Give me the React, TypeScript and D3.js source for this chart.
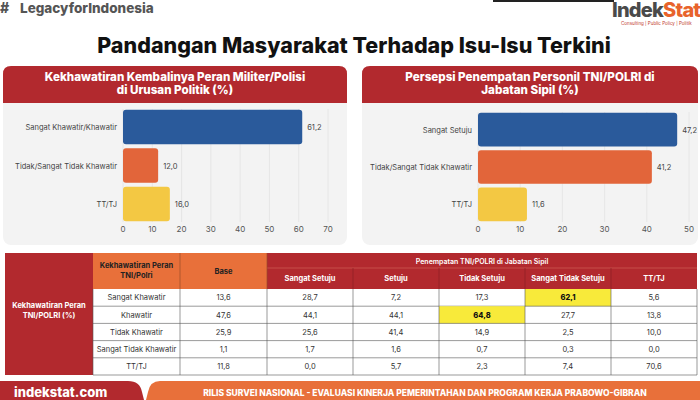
import * as d3 from "d3";

const W = 700;
const H = 400;
const FONT = "Inter, 'Open Sans', sans-serif";

// left chart
const leftCats = ["Sangat Khawatir/Khawatir", "Tidak/Sangat Tidak Khawatir", "TT/TJ"];
const leftVals = [61.2, 12.0, 16.0];
const leftTicks = [0, 10, 20, 30, 40, 50, 60, 70];

// right chart
const rightCats = ["Sangat Setuju", "Tidak/Sangat Tidak Khawatir", "TT/TJ"];
const rightVals = [47.2, 41.2, 11.6];
const rightTicks = [0, 10, 20, 30, 40, 50];

const barColors = ["#2a5a9b", "#e2653a", "#f3c843"];

// table
const rowLabels = ["Sangat Khawatir", "Khawatir", "Tidak Khawatir", "Sangat Tidak Khawatir", "TT/TJ"];
const baseVals = [13.6, 47.6, 25.9, 1.1, 11.8];
const colLabels = ["Sangat Setuju", "Setuju", "Tidak Setuju", "Sangat Tidak Setuju", "TT/TJ"];
const cellVals = [
  [28.7, 7.2, 17.3, 62.1, 5.6],
  [44.1, 44.1, 64.8, 27.7, 13.8],
  [25.6, 41.4, 14.9, 2.5, 10.0],
  [1.7, 1.6, 0.7, 0.3, 0.0],
  [0.0, 5.7, 2.3, 7.4, 70.6],
];
const highlights = [
  [0, 3],
  [1, 2],
];

const RED = "#b2292e";
const ORANGE = "#e8703a";

const fmt = (v: number) => v.toFixed(1).replace(".", ",");

type BarProps = {
  cats: string[];
  vals: number[];
  ticks: number[];
  x0: number;
  x1: number;
  y0: number;
  y1: number;
  labelX: number;
};

const BarChart = ({ cats, vals, ticks, x0, x1, y0, y1, labelX }: BarProps) => {
  const xScale = d3
    .scaleLinear()
    .domain([0, ticks[ticks.length - 1]])
    .range([x0, x1]);
  const yScale = d3
    .scaleBand<string>()
    .domain(cats.map((c, i) => c + i))
    .range([y0, y1])
    .paddingInner(0.1)
    .paddingOuter(0.02);

  return (
    <g>
      {ticks.map((t) => (
        <g key={t}>
          <line x1={xScale(t)} x2={xScale(t)} y1={y0} y2={y1} stroke="#e2e2e2" strokeWidth={0.8} />
          <text x={xScale(t)} y={y1 + 10} textAnchor="middle" fontSize={8} fill="#555" fontFamily={FONT}>
            {t}
          </text>
        </g>
      ))}
      {cats.map((c, i) => {
        const y = yScale(c + i)!;
        const bw = yScale.bandwidth();
        return (
          <g key={i}>
            <rect
              x={xScale(0)}
              y={y}
              width={xScale(vals[i]) - xScale(0)}
              height={bw}
              rx={3}
              fill={barColors[i]}
            />
            <text x={labelX} y={y + bw / 2 + 3} textAnchor="end" fontSize={7.5} fill="#444" fontFamily={FONT}>
              {c}
            </text>
            <text x={xScale(vals[i]) + 5} y={y + bw / 2 + 3} fontSize={7.5} fill="#444" fontFamily={FONT}>
              {fmt(vals[i])}
            </text>
          </g>
        );
      })}
    </g>
  );
};

const Panel = ({ x, w, lines }: { x: number; w: number; lines: string[] }) => (
  <g>
    <rect x={x} y={66} width={w} height={179} rx={8} fill="#f3f3f3" />
    <path
      d={`M${x},103 V74 Q${x},66 ${x + 8},66 H${x + w - 8} Q${x + w},66 ${x + w},74 V103 Z`}
      fill={RED}
    />
    {lines.map((l, i) => (
      <text
        key={i}
        x={x + w / 2}
        y={81 + i * 13}
        textAnchor="middle"
        fontSize={11.6}
        fontWeight={800}
        fill="#fff"
        fontFamily={FONT}
      >
        {l}
      </text>
    ))}
  </g>
);

const Table = () => {
  const top = 253;
  const sub = 268;
  const head = 289;
  const rowH = 17.2;
  const c0 = 5;
  const c1 = 93;
  const c2 = 180;
  const c3 = 267;
  const right = 697;
  const colScale = d3.scaleBand<string>().domain(colLabels).range([c3, right]);
  const bottom = head + rowH * rowLabels.length;
  const isHi = (r: number, c: number) => highlights.some(([hr, hc]) => hr === r && hc === c);
  const txt = { fontSize: 7.5, fontFamily: FONT, textAnchor: "middle" as const };

  return (
    <g>
      <rect x={c0} y={top} width={c1 - c0} height={bottom - top} fill={RED} />
      <text {...txt} x={(c0 + c1) / 2} y={308} fill="#fff" fontWeight={700}>
        Kekhawatiran Peran
      </text>
      <text {...txt} x={(c0 + c1) / 2} y={318} fill="#fff" fontWeight={700}>
        TNI/POLRI (%)
      </text>
      <rect x={c1} y={top} width={c3 - c1} height={head - top} fill={ORANGE} />
      <rect x={c3} y={top} width={right - c3} height={head - top} fill={RED} />
      <line x1={c3} x2={right} y1={sub} y2={sub} stroke="#d46a5a" strokeWidth={0.6} />
      <text {...txt} x={(c1 + c2) / 2} y={268} fill="#222" fontWeight={700}>
        Kekhawatiran Peran
      </text>
      <text {...txt} x={(c1 + c2) / 2} y={278} fill="#222" fontWeight={700}>
        TNI/Polri
      </text>
      <text {...txt} x={(c2 + c3) / 2} y={274} fill="#222" fontWeight={700}>
        Base
      </text>
      <text {...txt} x={(c3 + right) / 2} y={264} fontSize={7} fill="#fff" fontWeight={600}>
        Penempatan TNI/POLRI di Jabatan Sipil
      </text>
      {colLabels.map((c) => (
        <text key={c} {...txt} x={colScale(c)! + colScale.bandwidth() / 2} y={281} fill="#fff" fontWeight={700}>
          {c}
        </text>
      ))}
      {[c2, c3].map((x) => (
        <line key={x} x1={x} x2={x} y1={top} y2={head} stroke="#9a4a2a" strokeWidth={0.7} />
      ))}
      {colLabels.slice(1).map((c) => (
        <line
          key={c}
          x1={colScale(c)}
          x2={colScale(c)}
          y1={sub}
          y2={head}
          stroke="#8a2024"
          strokeWidth={0.7}
        />
      ))}
      <rect x={c1} y={head} width={right - c1} height={bottom - head} fill="#fff" />
      {rowLabels.map((r, i) => {
        const y = head + i * rowH;
        return (
          <g key={r}>
            {cellVals[i].map((v, j) =>
              isHi(i, j) ? (
                <rect
                  key={j}
                  x={colScale(colLabels[j])}
                  y={y}
                  width={colScale.bandwidth()}
                  height={rowH}
                  fill="#f8ea3a"
                />
              ) : null
            )}
            <text {...txt} x={(c1 + c2) / 2} y={y + rowH / 2 + 2.7} fill="#333">
              {r}
            </text>
            <text {...txt} x={(c2 + c3) / 2} y={y + rowH / 2 + 2.7} fill="#333">
              {fmt(baseVals[i])}
            </text>
            {cellVals[i].map((v, j) => (
              <text
                key={j}
                {...txt}
                x={colScale(colLabels[j])! + colScale.bandwidth() / 2}
                y={y + rowH / 2 + 2.7}
                fill={isHi(i, j) ? "#111" : "#333"}
                fontWeight={isHi(i, j) ? 800 : 400}
              >
                {fmt(v)}
              </text>
            ))}
            <line x1={c1} x2={right} y1={y + rowH} y2={y + rowH} stroke="#555" strokeWidth={0.6} />
          </g>
        );
      })}
      {[c1, c2, c3, ...colLabels.slice(1).map((c) => colScale(c)!), right].map((x, i) => (
        <line key={i} x1={x} x2={x} y1={head} y2={bottom} stroke="#555" strokeWidth={0.6} />
      ))}
    </g>
  );
};

export default function App() {
  return (
    <svg width={W} height={H} style={{ position: "absolute", left: 0, top: 0, background: "#fff" }}>
      <rect width={W} height={H} fill="#fff" />
      {/* header */}
      <text x={0} y={13} fontSize={14} fontWeight={800} fill="#555" fontFamily={FONT}>
        #
      </text>
      <text x={20} y={12.5} fontSize={13.5} fontWeight={800} fill="#555" fontFamily={FONT}>
        LegacyforIndonesia
      </text>
      <line x1={493} x2={614} y1={1} y2={1} stroke="#222" strokeWidth={2} />
      <text x={612} y={17} fontSize={20} fontWeight={800} fontFamily={FONT} letterSpacing={-0.8}>
        <tspan fill="#4a4a4a">Indek</tspan>
        <tspan fill="#e8632b">Stat</tspan>
      </text>
      <text x={621} y={25} fontSize={4.5} fill="#c0392b" fontFamily={FONT}>
        Consulting | Public Policy | Politik
      </text>
      <text x={354} y={53} textAnchor="middle" fontSize={21.5} fontWeight={800} fill="#111" fontFamily={FONT}>
        Pandangan Masyarakat Terhadap Isu-Isu Terkini
      </text>

      <Panel x={3} w={344} lines={["Kekhawatiran Kembalinya Peran Militer/Polisi", "di Urusan Politik (%)"]} />
      <Panel x={362} w={336} lines={["Persepsi Penempatan Personil TNI/POLRI di", "Jabatan Sipil (%)"]} />
      <BarChart cats={leftCats} vals={leftVals} ticks={leftTicks} x0={123} x1={328} y0={109} y1={222} labelX={117} />
      <BarChart cats={rightCats} vals={rightVals} ticks={rightTicks} x0={478} x1={689} y0={112} y1={222} labelX={472} />

      <Table />

      {/* footer */}
      <path d="M0,381 H128 Q140,381 142,392 L144,400 H0 Z" fill={RED} />
      <path d="M160,381 H700 V400 H146 L148,392 Q150,381 160,381 Z" fill={ORANGE} />
      <text x={14} y={397} fontSize={13} fontWeight={800} fill="#fff" fontFamily={FONT}>
        indekstat.com
      </text>
      <text x={425} y={396} textAnchor="middle" fontSize={8.5} fontWeight={800} fill="#fff" fontFamily={FONT}>
        RILIS SURVEI NASIONAL - EVALUASI KINERJA PEMERINTAHAN DAN PROGRAM KERJA PRABOWO-GIBRAN
      </text>
    </svg>
  );
}
